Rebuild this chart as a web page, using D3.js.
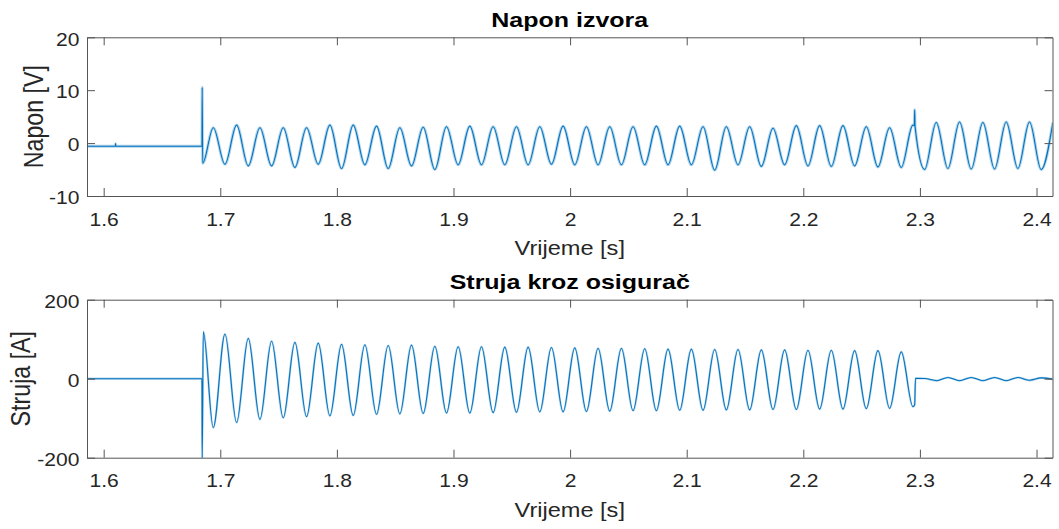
<!DOCTYPE html>
<html>
<head>
<meta charset="utf-8">
<script src="https://cdn.jsdelivr.net/npm/d3@7"></script>
<style>
  body { margin: 0; background: #fff; }
</style>
</head>
<body>
<div id="chart"></div>
<script>
// tick values shared by both panels
var tTicks = [1.6, 1.7, 1.8, 1.9, 2.0, 2.1, 2.2, 2.3, 2.4];
var tTickLabels = ["1.6", "1.7", "1.8", "1.9", "2", "2.1", "2.2", "2.3", "2.4"];
var vTicks = [-10, 0, 10, 20];
var iTicks = [-200, 0, 200];

// Napon izvora: samples around the switching moment [t, V]
var vEdge = [[1.5857, -0.6], [1.6100, -0.6], [1.6102, -0.1], [1.6104, -0.6],
             [1.6843, -0.6], [1.6845, 10.5], [1.6849, -3.8],
             [2.2952, 3.3], [2.2955, 6.3], [2.2958, 3.2]];
// voltage peaks and troughs
var vPeakTimes = [1.694, 1.714, 1.734, 1.754, 1.774, 1.794, 1.814, 1.834, 1.854, 1.874,
                  1.894, 1.914, 1.934, 1.954, 1.974, 1.994, 2.014, 2.034, 2.054, 2.074,
                  2.094, 2.114, 2.134, 2.154, 2.174, 2.194, 2.214, 2.234, 2.254, 2.274,
                  2.294, 2.314, 2.334, 2.354, 2.374, 2.394, 2.414];
var vPeakValues = [2.9, 3.4, 2.9, 2.9, 2.9, 3.4, 3.4, 3.2, 2.9, 3.0,
                   3.1, 3.2, 3.1, 3.1, 3.1, 3.2, 3.1, 3.1, 3.1, 3.2,
                   3.2, 3.1, 3.1, 3.1, 2.8, 3.3, 3.3, 3.3, 3.1, 2.9,
                   3.4, 3.9, 4.0, 3.9, 4.0, 4.0, 3.9];
var vTroughTimes = [1.704, 1.724, 1.744, 1.764, 1.784, 1.804, 1.824, 1.844, 1.864,
                    1.884, 1.904, 1.924, 1.944, 1.964, 1.984, 2.004, 2.024, 2.044,
                    2.064, 2.084, 2.104, 2.124, 2.144, 2.164, 2.184, 2.204, 2.224,
                    2.244, 2.264, 2.284, 2.304, 2.324, 2.344, 2.364, 2.384, 2.404];
var vTroughValues = [-4.0, -4.3, -4.3, -4.6, -4.0, -4.8, -4.1, -4.8, -4.3,
                     -5.0, -4.1, -4.1, -4.1, -4.1, -4.0, -4.1, -4.1, -4.1,
                     -4.1, -4.1, -4.1, -5.1, -4.1, -4.4, -4.1, -4.3, -4.4,
                     -4.3, -4.5, -4.6, -5.0, -4.8, -4.9, -4.9, -4.8, -5.0];

// Struja kroz osigurac: samples around switching and fuse blowing [t, A]
var iEdge = [[1.5857, 0], [1.6843, 0], [1.6845, -210], [1.6854, 119],
             [2.2955, -66], [2.2962, 1], [2.304, 0.5]];
var iPeakTimes = [1.704, 1.724, 1.744, 1.764, 1.784, 1.804, 1.824, 1.844, 1.864, 1.884,
                  1.904, 1.924, 1.944, 1.964, 1.984, 2.004, 2.024, 2.044, 2.064, 2.084,
                  2.104, 2.124, 2.144, 2.164, 2.184, 2.204, 2.224, 2.244, 2.264, 2.284,
                  2.324, 2.344, 2.364, 2.384, 2.404];
var iPeakValues = [113, 102, 95, 92, 90, 87, 86, 84, 85, 82,
                   81, 81, 80, 80, 79, 78, 77, 77, 76, 75,
                   75, 74, 74, 73, 73, 72, 72, 71, 71, 68,
                   3, 3, 3, 3, 2];
var iTroughTimes = [1.694, 1.714, 1.734, 1.754, 1.774, 1.794, 1.814, 1.834, 1.854, 1.874,
                    1.894, 1.914, 1.934, 1.954, 1.974, 1.994, 2.014, 2.034, 2.054, 2.074,
                    2.094, 2.114, 2.134, 2.154, 2.174, 2.194, 2.214, 2.234, 2.254, 2.274,
                    2.294, 2.3145, 2.334, 2.354, 2.374, 2.394, 2.414];
var iTroughValues = [-124, -111, -103, -99, -96, -94, -93, -90, -89, -88,
                     -87, -87, -86, -85, -84, -84, -83, -82, -81, -81,
                     -80, -80, -79, -79, -78, -78, -77, -77, -76, -75,
                     -71, -5, -5, -5, -5, -4, -1];

function series(edge, pt, pv, tt, tv) {
    var out = edge.slice();
    pt.forEach(function(t, i) { out.push([t, pv[i]]); });
    tt.forEach(function(t, i) { out.push([t, tv[i]]); });
    out.sort(function(a, b) { return a[0] - b[0]; });
    return out;
}

var vData = series(vEdge, vPeakTimes, vPeakValues, vTroughTimes, vTroughValues);
var iData = series(iEdge, iPeakTimes, iPeakValues, iTroughTimes, iTroughValues);

var w = 1059, h = 529;
var left = 87, right = 1052.5;
var sx = 1.19; // text in the picture is drawn wider than normal
var font = "'Liberation Sans', Arial, Helvetica, sans-serif";
var axisColor = "#555";
var textColor = "#262626";
var blue = "#0072BD";

var svg = d3.select("#chart").append("svg")
            .attr("width", w)
            .attr("height", h)
            .style("background", "#fff");
var defs = svg.append("defs");

var xScale = d3.scaleLinear()
               .domain([1.5857, 2.4137])
               .range([left, right]);

function panel(n, top, bottom, yDomain, yTicks, title, yLabel, yLabelX, data, halo) {
    var yScale = d3.scaleLinear().domain(yDomain).range([bottom, top]);
    var mid = (left + right) / 2;

    defs.append("clipPath").attr("id", "clip" + n)
        .append("rect")
        .attr("x", left).attr("y", top)
        .attr("width", right - left).attr("height", bottom - top);

    var line = d3.line()
                 .x(function(d) { return xScale(d[0]); })
                 .y(function(d) { return yScale(d[1]); })
                 .curve(d3.curveMonotoneX);

    // soft halo for the measurement noise, then the trace itself
    svg.append("path")
       .datum(data)
       .attr("clip-path", "url(#clip" + n + ")")
       .attr("fill", "none")
       .attr("stroke", blue)
       .attr("stroke-opacity", 0.3)
       .attr("stroke-width", halo)
       .attr("stroke-linejoin", "round")
       .attr("d", line);
    svg.append("path")
       .datum(data)
       .attr("clip-path", "url(#clip" + n + ")")
       .attr("fill", "none")
       .attr("stroke", blue)
       .attr("stroke-width", 1.1)
       .attr("stroke-linejoin", "round")
       .attr("d", line);

    var xAxis = d3.axisBottom(xScale).tickValues(tTicks)
                  .tickFormat(function(d, i) { return tTickLabels[i]; })
                  .tickSizeInner(-8).tickSizeOuter(0);
    var xTop = d3.axisTop(xScale).tickValues(tTicks).tickFormat("")
                 .tickSizeInner(-8).tickSizeOuter(0);
    // plain hyphen for negative labels, as in the picture
    var yAxis = d3.axisLeft(yScale).tickValues(yTicks)
                  .tickFormat(function(d) { return String(d); })
                  .tickSizeInner(-8).tickSizeOuter(0);
    var yRight = d3.axisRight(yScale).tickValues(yTicks).tickFormat("")
                   .tickSizeInner(-8).tickSizeOuter(0);

    var gx = svg.append("g").attr("transform", "translate(0," + bottom + ")").call(xAxis);
    svg.append("g").attr("transform", "translate(0," + top + ")").call(xTop);
    var gy = svg.append("g").attr("transform", "translate(" + left + ",0)").call(yAxis);
    svg.append("g").attr("transform", "translate(" + right + ",0)").call(yRight);

    svg.selectAll(".domain, .tick line").attr("stroke", axisColor);

    gx.selectAll("text")
      .attr("y", null).attr("dy", null)
      .attr("transform", "translate(0,29.6) scale(" + sx + ",1)")
      .attr("fill", textColor)
      .style("font-family", font).style("font-size", "17.7px");
    gy.selectAll("text")
      .attr("x", null).attr("dy", "0.44em")
      .attr("text-anchor", "end")
      .attr("transform", "translate(-7.6,0) scale(" + sx + ",1)")
      .attr("fill", textColor)
      .style("font-family", font).style("font-size", "17.7px");

    svg.append("text")
       .attr("transform", "translate(" + mid + "," + (top - 10.6) + ") scale(" + sx + ",1)")
       .attr("text-anchor", "middle")
       .attr("fill", "#000")
       .style("font-family", font).style("font-size", "21px").style("font-weight", "bold")
       .text(title);

    svg.append("text")
       .attr("transform", "translate(" + mid + "," + (bottom + 59) + ") scale(" + sx + ",1)")
       .attr("text-anchor", "middle")
       .attr("fill", textColor)
       .style("font-family", font).style("font-size", "19.8px")
       .text("Vrijeme [s]");

    svg.append("text")
       .attr("transform", "translate(" + yLabelX + "," + ((top + bottom) / 2) + ") scale(" + sx + ",1) rotate(-90)")
       .attr("text-anchor", "middle")
       .attr("fill", textColor)
       .style("font-family", font).style("font-size", "23.2px")
       .text(yLabel);
}

panel(0, 37.3, 196, [-10, 20], vTicks, "Napon izvora", "Napon [V]", 42.5, vData, 3);
panel(1, 299.7, 457.7, [-200, 200], iTicks, "Struja kroz osigurač", "Struja [A]", 29.8, iData, 2.2);
</script>
</body>
</html>
